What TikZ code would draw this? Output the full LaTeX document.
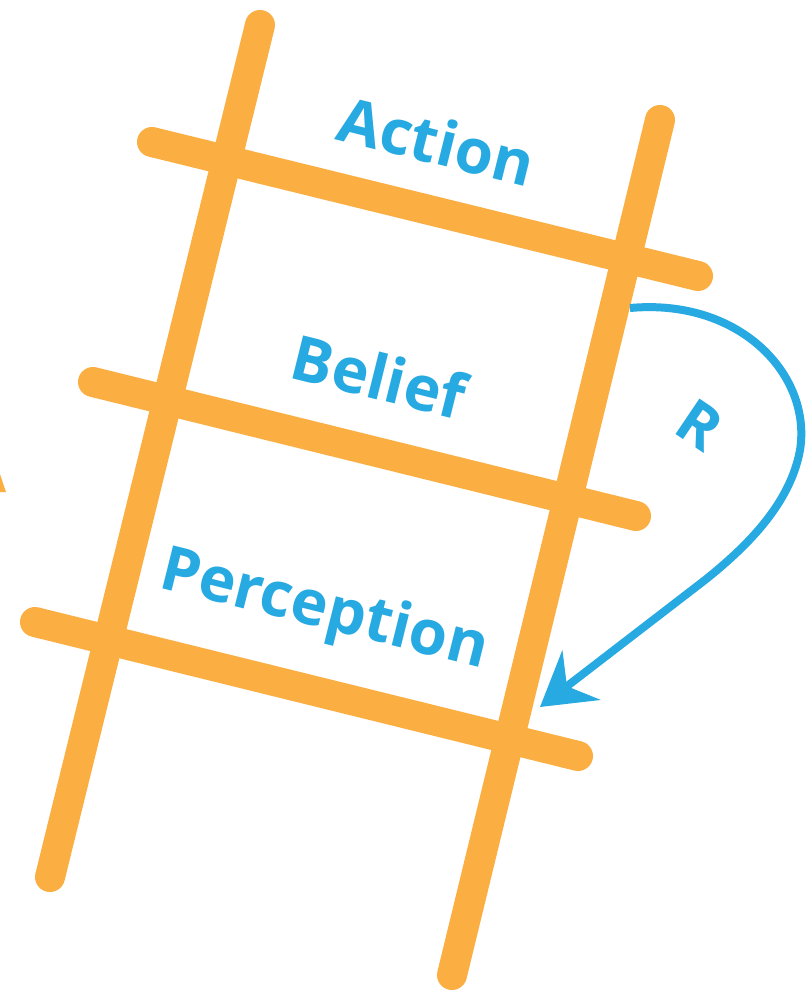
\documentclass[tikz,border=0pt]{standalone}
\usepackage{fontspec}
\setmainfont{Open Sans}
\usetikzlibrary{arrows.meta}
\definecolor{ladder}{HTML}{FBAE42}
\definecolor{sky}{HTML}{27A9E1}
\begin{document}
\begin{tikzpicture}[x=1pt,y=-1pt,
  rail/.style={draw=ladder,line width=30pt,line cap=round},
  lbl/.style={text=sky,font=\bfseries\fontsize{62}{62}\selectfont,rotate=-14,inner sep=0pt},
  loop/.style={draw=sky,line width=8pt,-{Stealth[length=52pt,width=62pt,inset=18pt]}}]
\useasboundingbox (0,0) rectangle (811,1000);
% rails
\draw[rail] (260,25) -- (50,877);
\draw[rail] (660,120) -- (452,975);
% rungs
\draw[rail] (152,142) -- (698,276);
\draw[rail] (93,382) -- (636,516);
\draw[rail] (35,622) -- (578,756);
% small clipped mark at left edge
\fill[ladder] (0,474) -- (6,492) -- (0,492) -- cycle;
% labels
\node[lbl] (action) at (437,141) {Action};
\node[lbl] (belief) at (379,376) {Belief};
\node[lbl] (perception) at (324,612) {Perception};
\node[lbl,font=\bfseries\fontsize{60}{60}\selectfont,rotate=-20] (r) at (700,425) {R};
% loop arrow
\coordinate (s) at (630,308);
\coordinate (t) at (540,707);
\draw[loop] (s) .. controls (740,298) and (812,375) .. (800,450)
  .. controls (790,505) and (745,548) .. (705,580) -- (t);
\end{tikzpicture}
\end{document}
